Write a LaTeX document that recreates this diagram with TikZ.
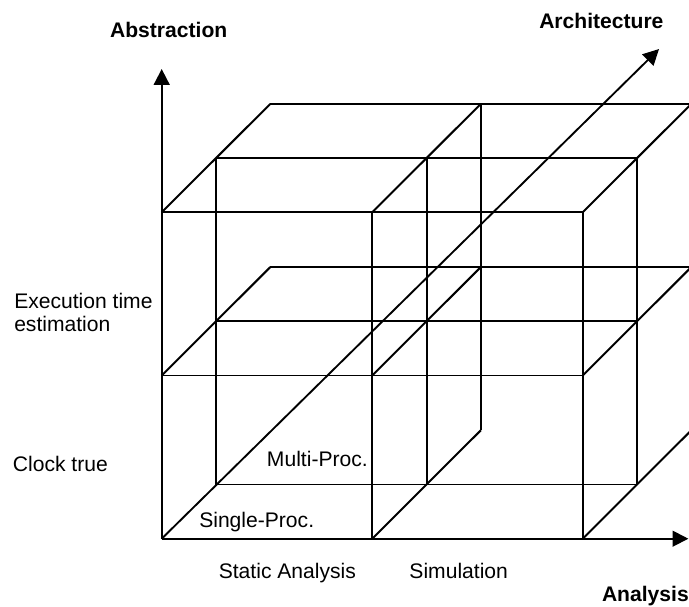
\documentclass[tikz,border=0pt]{standalone}
\usepackage{fontspec}
\setmainfont{Liberation Sans}
\usepackage{tikz}
\usetikzlibrary{arrows.meta}
\tikzstyle{axislabel} = [font=\fontsize{18}{20}\selectfont\bfseries, inner sep=0pt, anchor=base]
\tikzstyle{celltext} = [font=\fontsize{18}{20}\selectfont, inner sep=0pt, anchor=base]
\tikzstyle{axis} = [line width=1.6pt,-{Triangle[length=13.5pt,width=13.5pt]}]
\tikzstyle{cubeline} = [line width=1.7pt]

\begin{document}
\begin{tikzpicture}[x={(6.315cm,0cm)}, y={(0cm,4.896cm)}, z={(1.629cm,1.626cm)}]
\useasboundingbox (-4.851cm,-2.019cm) rectangle (15.819cm,16.161cm);

\coordinate (origin) at (0,0,0);
\coordinate (abstip) at (0cm,14.09cm);
\coordinate (archtip) at (14.92cm,14.69cm);
\coordinate (anatip) at (15.80cm,0cm);

% front layer
\draw [cubeline] (0,0,0) -- (2,0,0) (0,1,0) -- (2,1,0) (0,2,0) -- (2,2,0);
\draw [cubeline] (1,0,0) -- (1,2,0) (2,0,0) -- (2,2,0);
% middle layer
\draw [cubeline] (0,0,1) -- (2,0,1) (0,1,1) -- (2,1,1) (0,2,1) -- (2,2,1);
\draw [cubeline] (0,0,1) -- (0,2,1) (1,0,1) -- (1,2,1) (2,0,1) -- (2,2,1);
% back layer
\draw [cubeline] (0,1,2) -- (2,1,2) (0,2,2) -- (2,2,2) (1,0,2) -- (1,2,2);
% depth edges
\draw [cubeline] (0,1,0) -- (0,1,2) (0,2,0) -- (0,2,2);
\draw [cubeline] (1,0,0) -- (1,0,2) (1,1,0) -- (1,1,2) (1,2,0) -- (1,2,2);
\draw [cubeline] (2,0,0) -- (2,0,2) (2,1,0) -- (2,1,2) (2,2,0) -- (2,2,2);

\draw [axis] (origin) -- (abstip);
\draw [axis] (origin) -- (archtip);
\draw [axis] (origin) -- (anatip);

\node (abstraction) [axislabel] at (0.21cm,15.04cm) {Abstraction};
\node (architecture) [axislabel] at (13.19cm,15.31cm) {Architecture};
\node (analysis) [axislabel] at (14.51cm,-1.89cm) {Analysis};
\node (exectime) [celltext, anchor=west, align=left] at (-4.43cm,6.79cm) {Execution time\\estimation};
\node (clocktrue) [celltext, anchor=base west] at (-4.47cm,2.01cm) {Clock true};
\node (multiproc) [celltext] at (4.67cm,2.16cm) {Multi-Proc.};
\node (singleproc) [celltext] at (2.85cm,0.34cm) {Single-Proc.};
\node (static) [celltext] at (3.77cm,-1.19cm) {Static Analysis};
\node (simulation) [celltext] at (8.91cm,-1.19cm) {Simulation};
\end{tikzpicture}
\end{document}
